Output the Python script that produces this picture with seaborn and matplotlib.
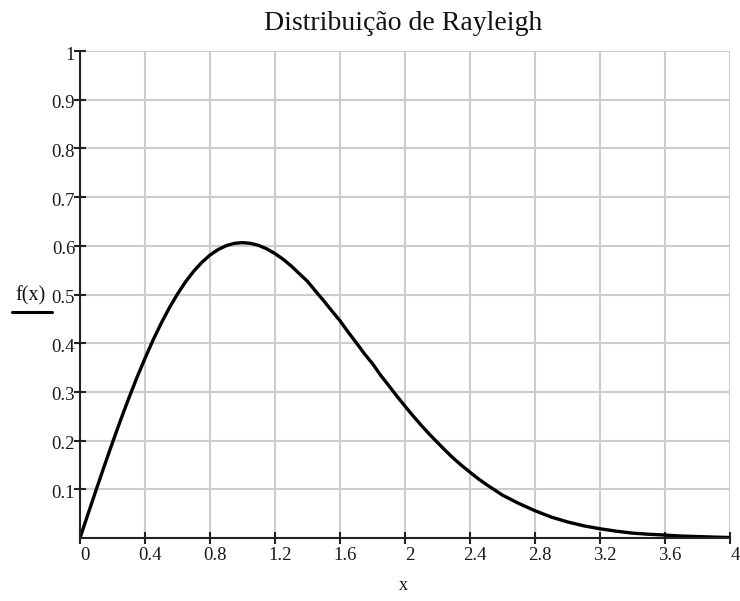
import matplotlib
matplotlib.use("Agg")
import matplotlib.pyplot as plt
import matplotlib.transforms as mtransforms
import seaborn as sns
import pandas as pd
from matplotlib.lines import Line2D

# Rayleigh density, sampled along x
x_vals = [0.0, 0.05, 0.1, 0.15, 0.2, 0.25, 0.3, 0.35, 0.4, 0.45, 0.5,
          0.55, 0.6, 0.65, 0.7, 0.75, 0.8, 0.85, 0.9, 0.95, 1.0,
          1.05, 1.1, 1.15, 1.2, 1.25, 1.3, 1.35, 1.4, 1.45, 1.5,
          1.55, 1.6, 1.65, 1.7, 1.75, 1.8, 1.85, 1.9, 1.95, 2.0,
          2.05, 2.1, 2.15, 2.2, 2.25, 2.3, 2.35, 2.4, 2.45, 2.5,
          2.6, 2.7, 2.8, 2.9, 3.0, 3.1, 3.2, 3.3, 3.4, 3.5,
          3.6, 3.7, 3.8, 3.9, 4.0]
f_vals = [0.0, 0.0499, 0.0995, 0.1483, 0.196, 0.2423, 0.2868, 0.3292, 0.369, 0.4067, 0.4412,
          0.4728, 0.501, 0.5263, 0.5479, 0.5661, 0.581, 0.5923, 0.6003, 0.605, 0.6065,
          0.605, 0.6007, 0.5936, 0.584, 0.5724, 0.5585, 0.5427, 0.527, 0.5068, 0.487,
          0.4663, 0.446, 0.423, 0.401, 0.3784, 0.358, 0.3342, 0.313, 0.2913, 0.2707,
          0.2506, 0.2314, 0.2132, 0.196, 0.1791, 0.163, 0.1486, 0.135, 0.1218, 0.110,
          0.088, 0.071, 0.056, 0.043, 0.033, 0.025, 0.019, 0.014, 0.010, 0.0077,
          0.006, 0.004, 0.003, 0.0019, 0.001]

x_ticks = [0, 0.4, 0.8, 1.2, 1.6, 2, 2.4, 2.8, 3.2, 3.6, 4]
x_tick_labels = ["0", "0.4", "0.8", "1.2", "1.6", "2", "2.4", "2.8", "3.2", "3.6", "4"]
y_ticks = [0.1, 0.2, 0.3, 0.4, 0.5, 0.6, 0.7, 0.8, 0.9, 1.0]
y_tick_labels = ["0.1", "0.2", "0.3", "0.4", "0.5", "0.6", "0.7", "0.8", "0.9", "1"]

sns.set_theme(style="white")
plt.rcParams["font.family"] = ["Liberation Serif", "DejaVu Serif"]

df = pd.DataFrame({"x": x_vals, "f": f_vals})

fig = plt.figure(figsize=(7.4, 6.01), dpi=100)
ax = fig.add_axes([80 / 740, 63 / 601, 650 / 740, 487 / 601])

sns.lineplot(data=df, x="x", y="f", ax=ax, color="black", linewidth=2.4, zorder=3)

ax.set_xlim(0, 4)
ax.set_ylim(0, 1)
ax.set_xticks(x_ticks)
ax.set_xticklabels(x_tick_labels)
ax.set_yticks(y_ticks)
ax.set_yticklabels(y_tick_labels)

ax.grid(True, color="#cccccc", linewidth=1.5)
ax.set_axisbelow(True)

for side in ("top", "right"):
    ax.spines[side].set_visible(False)
for side in ("left", "bottom"):
    ax.spines[side].set_color("#222222")
    ax.spines[side].set_linewidth(1.5)
    ax.spines[side].set_zorder(4)

ax.tick_params(axis="both", direction="inout", length=9, width=1.5,
               colors="#222222", labelsize=13.5, labelcolor="#1a1a1a")
ax.tick_params(axis="x", pad=2, bottom=True, left=False)
ax.tick_params(axis="y", pad=-1, left=True, bottom=False)

# nudge the x tick labels slightly to the right of their ticks
shift = mtransforms.ScaledTranslation(5 / 100, 0, fig.dpi_scale_trans)
for lbl in ax.get_xticklabels():
    lbl.set_transform(lbl.get_transform() + shift)
shift_y = mtransforms.ScaledTranslation(0, -2 / 100, fig.dpi_scale_trans)
for lbl in ax.get_yticklabels():
    lbl.set_transform(lbl.get_transform() + shift_y)

ax.set_xlabel("")
ax.set_ylabel("")

fig.text(403 / 740, 1 - 24 / 601, "Distribuição de Rayleigh", ha="center",
         va="center", fontsize=20, color="#111111")
fig.text(403 / 740, 1 - 586 / 601, "x", ha="center", va="center",
         fontsize=13, color="#111111")
fig.text(30 / 740, 1 - 296 / 601, "f(x)", ha="center", va="center",
         fontsize=14.5, color="#111111")
fig.add_artist(Line2D([12 / 740, 52 / 740], [1 - 312 / 601, 1 - 312 / 601],
                      transform=fig.transFigure, color="black", linewidth=2.2))

fig.savefig("out.png", dpi=100)
